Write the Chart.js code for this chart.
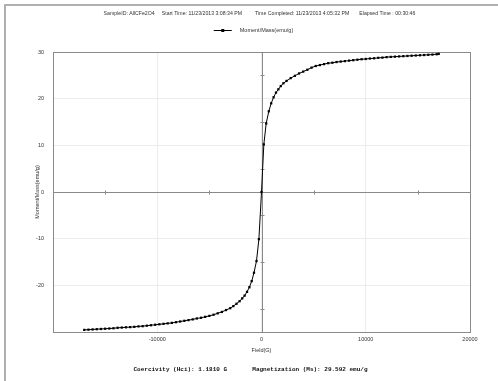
<!DOCTYPE html>
<html>
<head>
<meta charset="utf-8">
<script src="https://cdn.jsdelivr.net/npm/chart.js@4/dist/chart.umd.min.js"></script>
<style>
  html, body { margin: 0; padding: 0; background: #fff; }
</style>
</head>
<body>
<canvas id="vsmChart" width="498" height="381"></canvas>
<script>
// Texts around the plot
var headerText = "SampleID: AllCFe2O4     Start Time: 11/23/2013 3:08:34 PM         Time Completed: 11/23/2013 4:05:32 PM       Elapsed Time : 00:30:46";
var footerText = "Coercivity (Hci): 1.1810 G       Magnetization (Ms): 29.592 emu/g";
var seriesName = "Moment/Mass(emu/g)";
var xTitle = "Field(G)";
var yTitle = "Moment/Mass(emu/g)";

// Field (G) and moment/mass (emu/g)
var fieldG = [-17000, -16600, -16200, -15800, -15400, -15000, -14600, -14200, -13800, -13400,
  -13000, -12600, -12200, -11800, -11400, -11000, -10600, -10200, -9800, -9400,
  -9000, -8600, -8200, -7800, -7400, -7000, -6600, -6200, -5800, -5400,
  -5000, -4600, -4200, -3800, -3400, -3000, -2700, -2400, -2100, -1850,
  -1620, -1390, -1160, -940, -720, -480, -250, 0,
  224, 450, 700, 930, 1160, 1390, 1620, 1850, 2100, 2400,
  2800, 3200, 3600, 4000, 4400, 4800, 5200, 5600, 6000, 6400,
  6800, 7200, 7600, 8000, 8400, 8800, 9200, 9600, 10000, 10400,
  10800, 11200, 11600, 12000, 12400, 12800, 13200, 13600, 14000, 14400,
  14800, 15200, 15600, 16000, 16400, 16800, 17000];
var momentMass = [-29.55, -29.5, -29.45, -29.4, -29.35, -29.3, -29.25, -29.2, -29.1, -29.05,
  -29.0, -28.95, -28.9, -28.8, -28.75, -28.65, -28.55, -28.45, -28.35, -28.25,
  -28.15, -28.05, -27.9, -27.75, -27.6, -27.45, -27.3, -27.1, -26.95, -26.75,
  -26.55, -26.3, -26.0, -25.7, -25.3, -24.9, -24.45, -23.95, -23.4, -22.8,
  -22.2, -21.4, -20.4, -19.1, -17.3, -14.8, -10.1, 0,
  10.2, 14.7, 17.3, 19.0, 20.3, 21.3, 22.0, 22.7, 23.3, 23.8,
  24.4, 24.9, 25.4, 25.8, 26.2, 26.65, 27.0, 27.2, 27.4, 27.6,
  27.7, 27.85, 27.95, 28.05, 28.15, 28.25, 28.35, 28.45, 28.5, 28.6,
  28.65, 28.75, 28.8, 28.9, 28.95, 29.0, 29.05, 29.1, 29.15, 29.2,
  29.25, 29.3, 29.35, 29.4, 29.45, 29.52, 29.59];

// Axis ticks (the lowest value of each axis carries no label)
var xTicks = [-20000, -10000, 0, 10000, 20000];
var yTicks = [-30, -20, -10, 0, 10, 20, 30];
var xMinorTicks = [-15000, -5000, 5000, 15000];
var yMinorTicks = [-25, -15, -5, 5, 15, 25];

var points = fieldG.map(function (f, i) { return { x: f, y: momentMass[i] }; });

var axisGrey = "#8a8a8a";
var textCol = "#333";
var sansFamily = "'Liberation Sans', Arial, sans-serif";
var smallFont = { family: sansFamily, size: 5.5 };

// header, legend and footer sit centred on the plot, so they are drawn here
var framePlugin = {
  id: "frame",
  beforeDraw: function (chart) {
    var c = chart.ctx;
    c.save();
    c.fillStyle = "#fff";
    c.fillRect(0, 0, chart.width, chart.height);
    c.fillStyle = "#b0b0b0";
    c.fillRect(4, 4, chart.width - 4, 2);
    c.fillRect(4, 4, 2, chart.height - 4);
    c.restore();
  },
  beforeDatasetsDraw: function (chart) {
    var c = chart.ctx, a = chart.chartArea;
    var xs = chart.scales.x, ys = chart.scales.y;
    var x0 = Math.round(xs.getPixelForValue(0)) + 0.5;
    var y0 = Math.round(ys.getPixelForValue(0)) + 0.5;
    c.save();
    c.strokeStyle = axisGrey;
    c.lineWidth = 1;
    c.strokeRect(Math.round(a.left) + 0.5, Math.round(a.top) + 0.5,
      Math.round(a.right - a.left), Math.round(a.bottom - a.top));
    c.beginPath();
    c.moveTo(a.left, y0); c.lineTo(a.right, y0);
    c.moveTo(x0, a.top); c.lineTo(x0, a.bottom);
    xMinorTicks.forEach(function (v) {
      var px = Math.round(xs.getPixelForValue(v)) + 0.5;
      c.moveTo(px, y0 - 2); c.lineTo(px, y0 + 2);
    });
    yMinorTicks.forEach(function (v) {
      var py = Math.round(ys.getPixelForValue(v)) + 0.5;
      c.moveTo(x0 - 2, py); c.lineTo(x0 + 2, py);
    });
    c.stroke();
    c.restore();
  },
  afterDraw: function (chart) {
    var c = chart.ctx, a = chart.chartArea;
    var cx = (a.left + a.right) / 2;
    c.save();
    c.fillStyle = textCol;
    c.textBaseline = "middle";
    c.font = "5.2px " + sansFamily;
    c.textAlign = "center";
    c.fillText(headerText, cx - 2, 14);
    // legend: line with marker, then the series name
    c.font = "5.5px " + sansFamily;
    var lw = 18, gap = 8;
    var tw = c.measureText(seriesName).width;
    var lx = cx - 8 - (lw + gap + tw) / 2;
    c.strokeStyle = "#000";
    c.lineWidth = 1;
    c.beginPath(); c.moveTo(lx, 30.5); c.lineTo(lx + lw, 30.5); c.stroke();
    c.fillStyle = "#000";
    c.fillRect(lx + lw / 2 - 1.5, 29, 3, 3);
    c.fillStyle = textCol;
    c.textAlign = "left";
    c.fillText(seriesName, lx + lw + gap, 30.5);
    // footer
    c.fillStyle = "#111";
    c.textAlign = "center";
    c.font = "bold 6px 'Liberation Mono', 'Courier New', monospace";
    c.fillText(footerText, cx - 11, 369.5);
    c.restore();
  }
};

new Chart(document.getElementById("vsmChart"), {
  type: "scatter",
  data: {
    datasets: [{
      label: seriesName,
      data: points,
      showLine: true,
      borderColor: "#000",
      borderWidth: 1,
      backgroundColor: "#000",
      pointStyle: "rect",
      pointRadius: 1.6,
      pointBorderWidth: 0
    }]
  },
  options: {
    responsive: false,
    animation: false,
    layout: { padding: { left: 6, right: 28, top: 52, bottom: 24 } },
    scales: {
      x: {
        type: "linear",
        min: -20000,
        max: 20000,
        afterBuildTicks: function (s) { s.ticks = xTicks.map(function (v) { return { value: v }; }); },
        afterFit: function (s) { s.height = 25; },
        ticks: {
          color: textCol,
          font: smallFont,
          padding: 4,
          maxRotation: 0,
          callback: function (v) { return v === -20000 ? "" : String(v); }
        },
        grid: { color: "#ececec", drawTicks: false },
        border: { display: false },
        title: { display: true, text: xTitle, color: textCol, font: smallFont, padding: { top: 0, bottom: 3 } }
      },
      y: {
        type: "linear",
        min: -30,
        max: 30,
        afterBuildTicks: function (s) { s.ticks = yTicks.map(function (v) { return { value: v }; }); },
        afterFit: function (s) { s.width = 47; },
        ticks: {
          color: textCol,
          font: smallFont,
          padding: 9,
          callback: function (v) { return v === -30 ? "" : String(v); }
        },
        grid: { color: "#ececec", drawTicks: false },
        border: { display: false },
        title: { display: true, text: yTitle, color: textCol, font: smallFont, padding: { top: 28, bottom: 0 } }
      }
    },
    plugins: {
      title: { display: false },
      legend: { display: false },
      tooltip: { enabled: false }
    }
  },
  plugins: [framePlugin]
});
</script>
</body>
</html>
